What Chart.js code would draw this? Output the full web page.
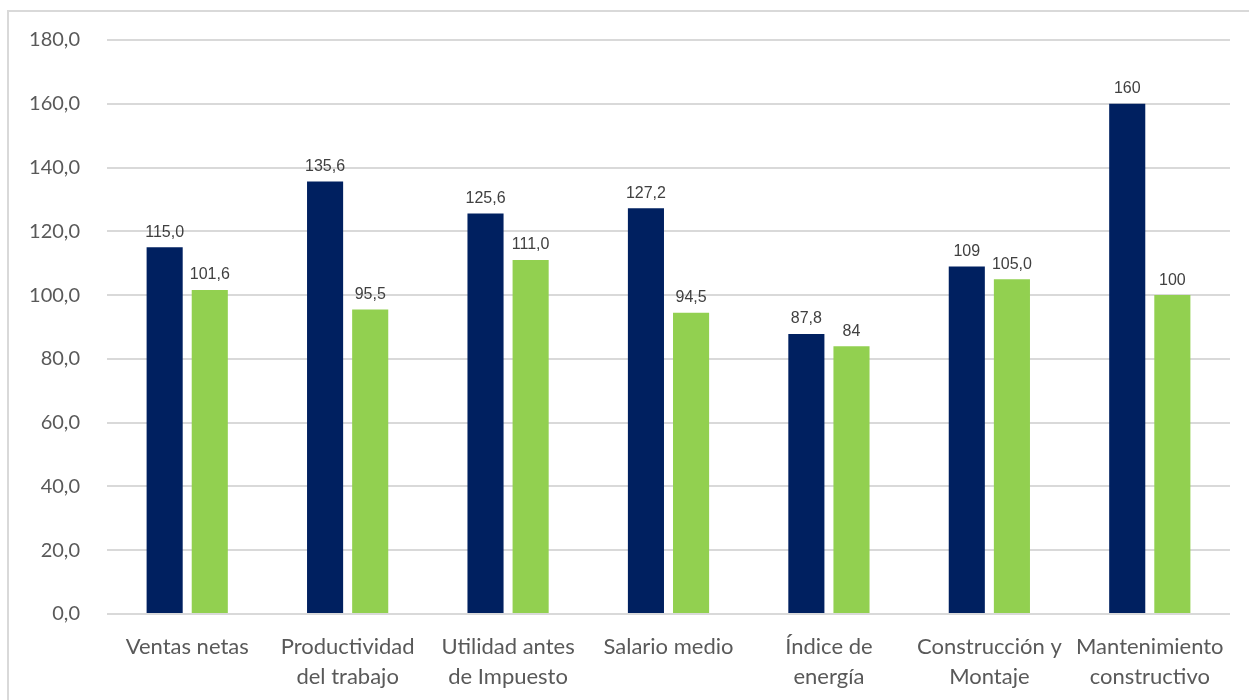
<!DOCTYPE html>
<html>
<head>
<meta charset="utf-8">
<script src="https://cdn.jsdelivr.net/npm/chart.js@4.4.1/dist/chart.umd.min.js"></script>
<style>
  html, body { margin: 0; padding: 0; background: #fff; overflow: hidden; }
  .frame {
    position: absolute;
    left: 7px; top: 10px;
    width: 1280px; height: 720px;
    border: 2px solid #d9d9d9;
    box-sizing: border-box;
  }
  #chart { position: absolute; left: 0; top: 0; }
</style>
</head>
<body>
<div class="frame"></div>
<canvas id="chart" width="1249" height="700"></canvas>
<script>
/* =========================
   DATA
========================= */

const categories = [
  'Ventas netas',
  ['Productividad', 'del trabajo'],
  ['Utilidad antes', 'de Impuesto'],
  'Salario medio',
  ['Índice de', 'energía'],
  ['Construcción y', 'Montaje'],
  ['Mantenimiento', 'constructivo']
];

const navyValues  = [115.0, 135.6, 125.6, 127.2, 87.8, 109, 160];
const greenValues = [101.6, 95.5, 111.0, 94.5, 84, 105.0, 100];

// decimals shown in each value label
const navyDecimals  = [1, 1, 1, 1, 1, 0, 0];
const greenDecimals = [1, 1, 1, 1, 0, 1, 0];

const yTicks = [0, 20, 40, 60, 80, 100, 120, 140, 160, 180];

/* =========================
   VALUE LABELS
========================= */

function formatValue(v, d) {
  return v.toFixed(d).replace('.', ',');
}

const valueLabelPlugin = {
  id: 'valueLabels',
  afterDatasetsDraw(chart) {
    const ctx = chart.ctx;
    ctx.save();
    ctx.font = '16px "Liberation Sans", Arial, sans-serif';
    ctx.fillStyle = '#404040';
    ctx.textAlign = 'center';
    ctx.textBaseline = 'bottom';
    chart.data.datasets.forEach((ds, i) => {
      const meta = chart.getDatasetMeta(i);
      meta.data.forEach((bar, j) => {
        ctx.fillText(formatValue(ds.data[j], ds.decimals[j]), bar.x, bar.y - 7);
      });
    });
    ctx.restore();
  }
};

/* =========================
   MAIN CHART
========================= */

const ctx = document.getElementById('chart').getContext('2d');

new Chart(ctx, {
  type: 'bar',
  data: {
    labels: categories,
    datasets: [
      {
        label: 'navy',
        data: navyValues,
        decimals: navyDecimals,
        backgroundColor: '#002060',
        barPercentage: 0.8,
        categoryPercentage: 0.5625
      },
      {
        label: 'green',
        data: greenValues,
        decimals: greenDecimals,
        backgroundColor: '#92D050',
        barPercentage: 0.8,
        categoryPercentage: 0.5625
      }
    ]
  },
  options: {
    responsive: false,
    animation: false,
    layout: {
      padding: { top: 40, right: 19, bottom: 0, left: 0 }
    },
    scales: {
      x: {
        grid: { display: false },
        border: { display: false },
        ticks: {
          color: '#595959',
          font: { family: 'Lato, "Open Sans", sans-serif', size: 22, lineHeight: 1.35 },
          padding: 10,
          maxRotation: 0,
          autoSkip: false
        },
        afterFit(scale) { scale.height = 86; }
      },
      y: {
        min: 0,
        max: 180,
        afterBuildTicks(scale) {
          scale.ticks = yTicks.map(v => ({ value: v }));
        },
        grid: {
          color: '#d9d9d9',
          lineWidth: 2,
          drawTicks: false
        },
        border: { display: false },
        ticks: {
          color: '#595959',
          font: { family: 'Lato, "Open Sans", sans-serif', size: 20 },
          padding: 27,
          callback: v => formatValue(v, 1)
        },
        afterFit(scale) { scale.width = 107; }
      }
    },
    plugins: {
      legend: { display: false },
      tooltip: { enabled: false }
    }
  },
  plugins: [valueLabelPlugin]
});
</script>
</body>
</html>
